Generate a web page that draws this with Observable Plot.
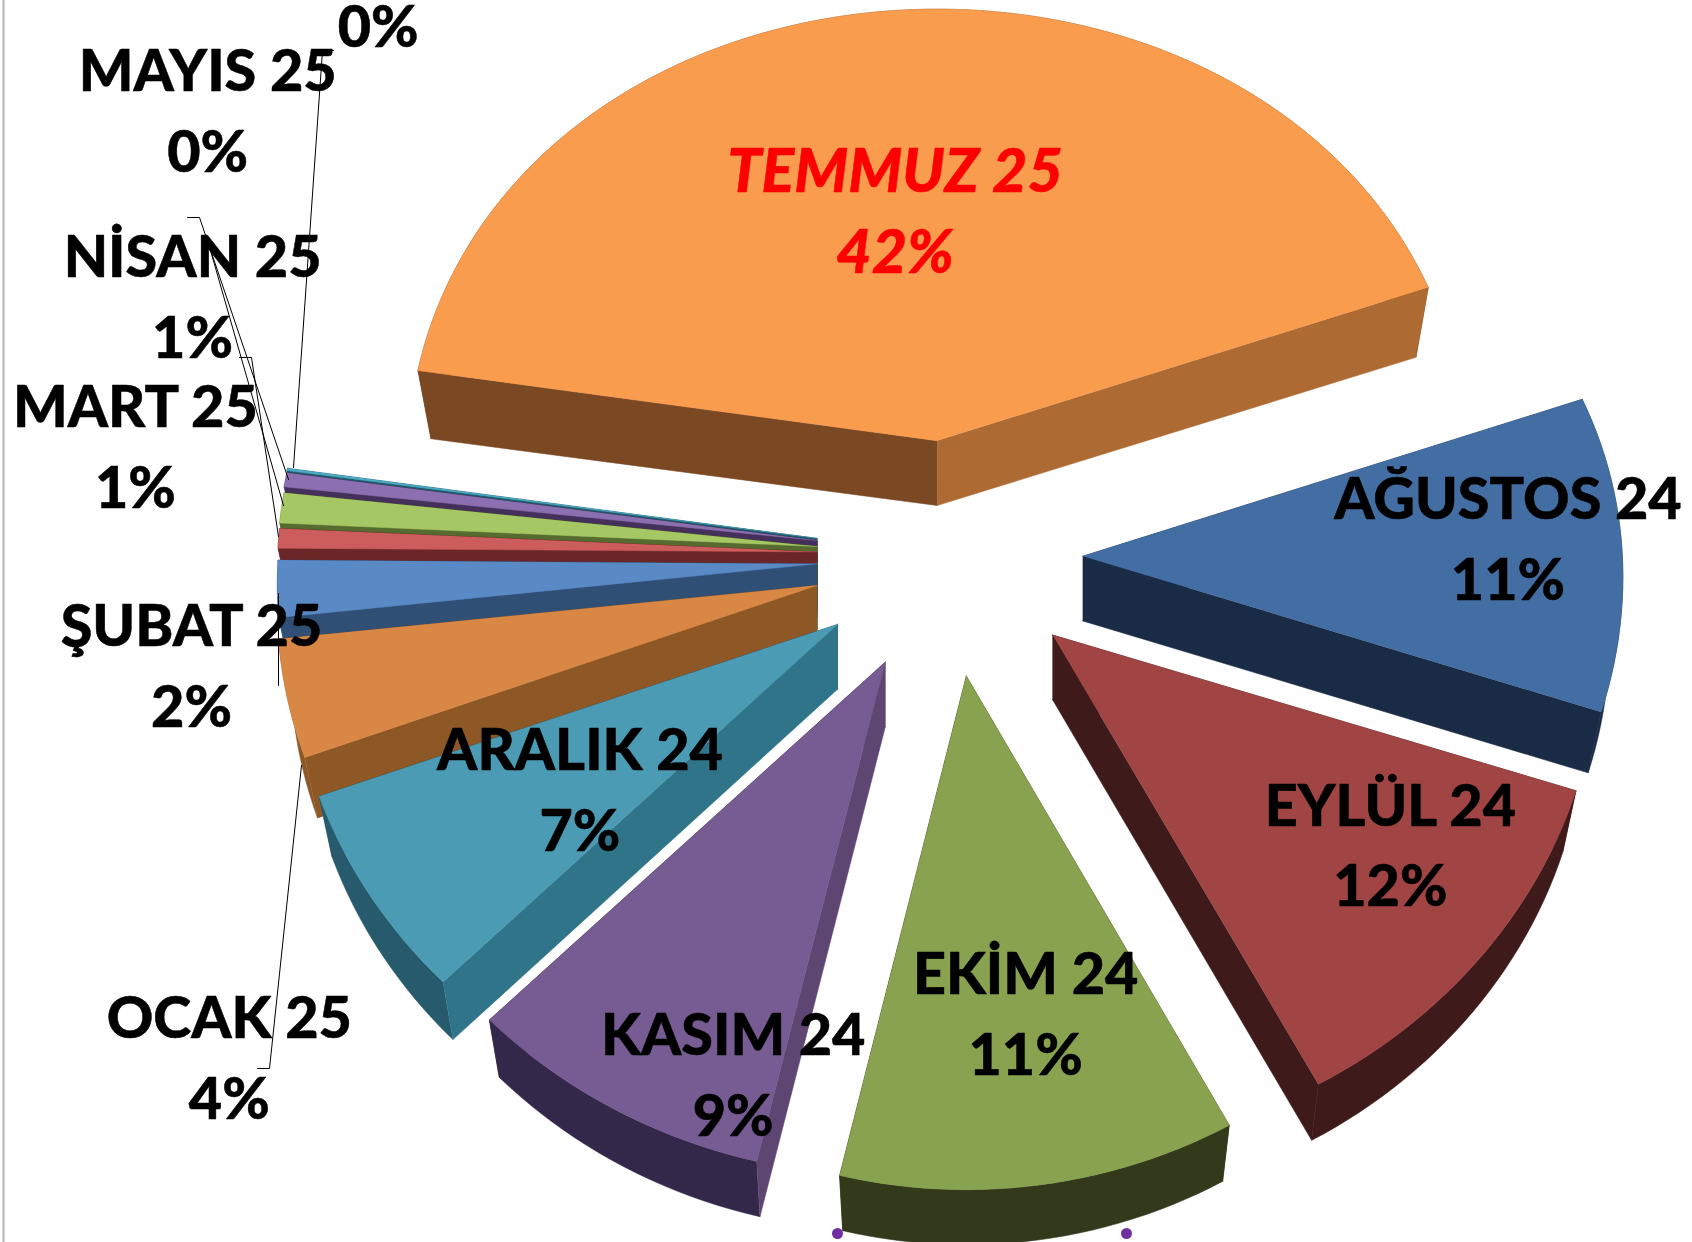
<!DOCTYPE html>
<html><head><meta charset="utf-8">
<style>html,body{margin:0;padding:0;background:#fff}svg{display:block}</style>
<script src="https://cdn.jsdelivr.net/npm/d3@7"></script>
<script src="https://cdn.jsdelivr.net/npm/@observablehq/plot@0.6"></script>
</head><body><div id="chart"></div>
<script>
// Data: share of each month as drawn, clockwise from the July slice's right edge
const months = ["AĞUSTOS 24","EYLÜL 24","EKİM 24","KASIM 24","ARALIK 24","OCAK 25","ŞUBAT 25","MART 25","NİSAN 25","MAYIS 25","HAZİRAN 25","TEMMUZ 25"];
const shares = [10.75,12.03,11.39,8.75,6.89,3.95,1.92,0.67,1.04,0.49,0.08,42.04];
const percents = ["11%","12%","11%","9%","7%","4%","2%","1%","1%","0%","0%","42%"];

// Styling and layout (explosion offsets, colours, label anchors), in reference pixels
const k = 1692 / 1568;
const apexX = [1003,975,895,820,776,757,757,757,757,757,757,868];
const apexY = [515,588,626,613,578,542,522,511,506,500.5,498.5,408];
const widen = [1,1.01,1,1.015,1.012,1,1,1,1,1,1,0.98];
const depth = [59,59,59,59,59,59,59,59,59,59,59,62];
const topFill = ["#426ea3","#a04543","#88a24f","#765c93","#4a9bb3","#d98744","#5a8ac6","#cd5c5c","#a6c864","#8b6fb0","#4bacc6","#fa9c4e"];
const arcFill = ["#1a2b45","#3f1a1a","#33391b","#33274a","#265a6c","#8d5726","#2f4f75","#6b2728","#556b2f","#44305a","#205867","#7a4822"];
const startFill=["#1a2b45","#3f1a1a","#33391b","#5e4673","#2f7488","#8d5726","#2f4f75","#6b2728","#556b2f","#44305a","#205867","#7a4822"];
const endFill = ["#1a2b45","#3f1a1a","#33391b","#33274a","#265a6c","#8d5726","#2f4f75","#6b2728","#556b2f","#44305a","#205867","#ad6a32"];
const labelX = [1397,1288,950,679,537,212,177,125,178,192,350,829];
const labelY = [462,746,902,959,695,943,580,377,238,65,-50,158];

const rad = Math.PI / 180;
const startAngle = 20;
function rimPoint(i, deg) {
  const u = Math.cos(deg * rad), v = Math.sin(deg * rad);
  return {x: k * (apexX[i] + widen[i] * u * (500 - 22 * v)), y: k * (apexY[i] - 438 * v + 38 * v * v), v};
}
function under(i, p) {
  const ax = k * apexX[i];
  return {x: ax + (p.x - ax) * 0.975, y: p.y + k * (depth[i] + 8 * p.v)};
}
function arc(i, a0, a1) {
  const n = Math.max(2, Math.ceil(Math.abs(a1 - a0) / 1.5));
  return d3.range(n + 1).map(j => rimPoint(i, a0 + (a1 - a0) * j / n));
}
const poly = (pts, fill) => Plot.line(pts, {x: "x", y: "y", fill, stroke: fill, strokeWidth: 0.6, strokeOpacity: 0.9});

let ang = startAngle;
const slices = months.map((m, i) => {
  const a0 = ang, a1 = ang - shares[i] * 3.6;
  ang = a1;
  return {i, a0, a1};
});
// July closes the circle, with a hair of gap where its right edge sits in the picture
slices[11].a1 = startAngle - 360.5;
// Painter's order: the back slice first, then from the thin left ones down, then the front
const order = [11, 10, 9, 8, 7, 6, 5, 0, 1, 4, 3, 2];
const sliceMarks = order.flatMap(i => {
  const {a0, a1} = slices[i];
  const A = {x: k * apexX[i], y: k * apexY[i]};
  const Ab = {x: A.x, y: A.y + k * 60};
  const rim = arc(i, a0, a1);
  const first = rim[0], last = rim[rim.length - 1];
  return [
    poly([...rim, ...rim.map(p => under(i, p)).reverse()], arcFill[i]),
    poly([A, last, under(i, last), Ab], endFill[i]),
    poly([A, first, under(i, first), Ab], startFill[i]),
    poly([A, ...rim], topFill[i])
  ];
});

const leaders = [
  [[333,50],[322,50],[293,467]],
  [[187,217],[199,217],[288,479]],
  [[208,243],[283,505]],
  [[239,357],[251,357],[278,536]],
  [[278,593],[278,685]],
  [[301,765],[269,1068],[257,1068]]
].map(l => l.map(([x, y]) => ({x, y})));

const font = {fontFamily: "Lato", fontSize: 57.5, fontWeight: 900, strokeWidth: 0.5};
const italicFont = {fontFamily: "Lato", fontSize: 61, fontWeight: 900, fontStyle: "italic", strokeWidth: 0.5};
const nameRows = months.map((m, i) => ({m, x: k * labelX[i], y: k * (labelY[i] + 1.5), i})).filter(d => d.y > 0);
const pctRows = percents.map((m, i) => ({m, x: k * labelX[i], y: k * (i === 10 ? 26 : labelY[i] + 76.5), i}));
const red = d => d.i === 11;

const plot = Plot.plot({
  width: 1692, height: 1242, margin: 0,
  x: {domain: [0, 1692], range: [0, 1692], axis: null},
  y: {domain: [0, 1242], range: [0, 1242], axis: null},
  style: {background: "#fff"},
  marks: [
    Plot.ruleX([3], {stroke: "#b4b4b4", strokeWidth: 2}),
    ...sliceMarks,
    ...leaders.map(l => Plot.line(l, {x: "x", y: "y", stroke: "#000", strokeWidth: 1})),
    Plot.dot([{x: 837, y: 1233}, {x: 1126, y: 1233}], {x: "x", y: "y", r: 5.5, fill: "#7030a0"}),
    Plot.text(nameRows.filter(d => !red(d)), {x: "x", y: "y", text: "m", fill: "#000", stroke: "#000", ...font}),
    Plot.text(pctRows.filter(d => !red(d)), {x: "x", y: "y", text: "m", fill: "#000", stroke: "#000", ...font}),
    Plot.text(nameRows.filter(red), {x: "x", y: "y", text: "m", fill: "#ff0000", stroke: "#ff0000", ...italicFont}),
    Plot.text(pctRows.filter(red), {x: "x", y: "y", text: "m", fill: "#ff0000", stroke: "#ff0000", ...italicFont})
  ]
});
document.getElementById("chart").append(plot);
</script></body></html>
